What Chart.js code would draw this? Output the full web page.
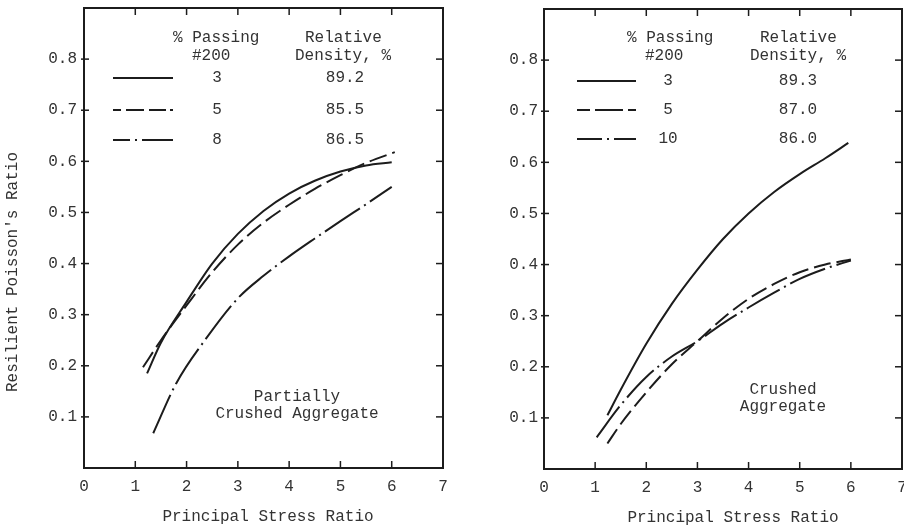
<!DOCTYPE html>
<html>
<head>
<meta charset="utf-8">
<script src="https://cdn.jsdelivr.net/npm/chart.js@4.4.1/dist/chart.umd.min.js"></script>
<style>
  html, body { margin: 0; padding: 0; background: #fff; }
  #wrap { position: relative; width: 904px; height: 531px; overflow: hidden; background: #fff; }
  #wrap canvas { position: absolute; top: 0; }
</style>
</head>
<body>
<div id="wrap">
  <canvas id="left" width="452" height="531" style="left:0"></canvas>
  <canvas id="right" width="452" height="531" style="left:452px"></canvas>
</div>
<script>
// ── DATA ──────────────────────────────────────────────────────────────────────
const X_TICKS = [0, 1, 2, 3, 4, 5, 6, 7];
const Y_TICKS = [0.1, 0.2, 0.3, 0.4, 0.5, 0.6, 0.7, 0.8];

// Left panel: partially crushed aggregate
const pcSolidX = [1.23, 1.5, 2, 2.5, 3, 3.5, 4, 4.5, 5, 5.5, 6.0];
const pcSolidY = [0.185, 0.245, 0.325, 0.4, 0.458, 0.503, 0.537, 0.562, 0.58, 0.592, 0.598];
const pcDashX  = [1.15, 1.5, 2, 2.5, 3, 3.5, 4, 4.5, 5, 5.5, 6.06];
const pcDashY  = [0.197, 0.25, 0.318, 0.383, 0.437, 0.48, 0.515, 0.546, 0.573, 0.597, 0.618];
const pcDotX   = [1.35, 1.8, 2.4, 3, 3.5, 4, 4.5, 5, 5.5, 6];
const pcDotY   = [0.068, 0.166, 0.256, 0.332, 0.376, 0.414, 0.449, 0.483, 0.516, 0.55];
const pcPassing = ['3', '5', '8'];
const pcDensity = ['89.2', '85.5', '86.5'];

// Right panel: crushed aggregate
const cSolidX = [1.24, 1.5, 2, 2.5, 3, 3.5, 4, 4.5, 5, 5.5, 5.95];
const cSolidY = [0.105, 0.155, 0.245, 0.323, 0.39, 0.45, 0.5, 0.542, 0.577, 0.608, 0.638];
const cDashX  = [1.24, 1.5, 2, 2.5, 3, 3.5, 4, 4.5, 5, 5.5, 6];
const cDashY  = [0.05, 0.088, 0.15, 0.205, 0.25, 0.295, 0.333, 0.362, 0.385, 0.4, 0.41];
const cDotX   = [1.03, 1.5, 2, 2.5, 3, 3.5, 4, 4.5, 5, 5.5, 6];
const cDotY   = [0.062, 0.125, 0.18, 0.22, 0.25, 0.285, 0.316, 0.345, 0.372, 0.392, 0.408];
const cPassing = ['3', '5', '10'];
const cDensity = ['89.3', '87.0', '86.0'];

// ── STYLE ─────────────────────────────────────────────────────────────────────
const INK  = '#1c1c1c';
const TEXT = '#333333';
const FAM  = '"Liberation Mono", "DejaVu Sans Mono", monospace';

const toPts = (xs, ys) => xs.map((x, i) => ({ x, y: ys[i] }));

function line(ctx, x0, y0, x1, y1) {
  ctx.beginPath(); ctx.moveTo(x0, y0); ctx.lineTo(x1, y1); ctx.stroke();
}

function text(ctx, s, x, y, align, size) {
  ctx.font = (size || 16) + 'px ' + FAM;
  ctx.textAlign = align || 'left';
  ctx.textBaseline = 'middle';
  ctx.fillText(s, x, y);
}

// frame, inward ticks, legend table and labels drawn over the chart
function decorPlugin(cfg) {
  return {
    id: 'decor',
    afterDraw(chart) {
      const { ctx, chartArea: { left, right, top, bottom }, scales: { x, y } } = chart;
      ctx.save();
      ctx.strokeStyle = INK;
      ctx.lineWidth = 2;
      ctx.setLineDash([]);
      ctx.strokeRect(left, top, right - left, bottom - top);

      ctx.lineWidth = 1.5;
      X_TICKS.slice(1, -1).forEach(v => {
        const px = x.getPixelForValue(v);
        line(ctx, px, bottom, px, bottom - 7);
        line(ctx, px, top, px, top + 7);
      });
      Y_TICKS.forEach(v => {
        const py = y.getPixelForValue(v);
        line(ctx, left - 3, py, left + 5, py);
        line(ctx, right, py, right - 7, py);
      });

      // legend table
      ctx.fillStyle = TEXT;
      const L = cfg.legend;
      text(ctx, '% Passing', L.passX, 38);
      text(ctx, '#200', L.numX0, 56);
      text(ctx, 'Relative', L.relX, 38);
      text(ctx, 'Density, %', L.denX, 56);
      cfg.series.forEach((s, i) => {
        const ry = L.rows[i];
        ctx.lineWidth = 2;
        ctx.setLineDash(s.legendDash);
        line(ctx, L.lineX0, ry, L.lineX1, ry);
        ctx.setLineDash([]);
        text(ctx, cfg.passing[i], L.passCx, ry, 'center');
        text(ctx, cfg.density[i], L.denCx, ry, 'center');
      });

      // panel label
      cfg.note.lines.forEach((t, i) => text(ctx, t, cfg.note.x, cfg.note.y + i * 17, 'center'));

      // axis titles
      text(ctx, 'Principal Stress Ratio', cfg.xTitle.x, cfg.xTitle.y, 'center', 16);
      if (cfg.yTitle) {
        ctx.translate(cfg.yTitle.x, cfg.yTitle.y);
        ctx.rotate(-Math.PI / 2);
        text(ctx, "Resilient Poisson's Ratio", 0, 0, 'center', 16);
      }
      ctx.restore();
    }
  };
}

function makePanel(id, cfg) {
  return new Chart(document.getElementById(id), {
    type: 'scatter',
    data: {
      datasets: cfg.series.map(s => ({
        data: toPts(s.x, s.y),
        showLine: true,
        borderColor: INK,
        borderWidth: 2,
        borderDash: s.dash,
        pointRadius: 0,
        cubicInterpolationMode: 'monotone',
        fill: false
      }))
    },
    options: {
      responsive: false,
      animation: false,
      devicePixelRatio: 1,
      layout: { padding: cfg.pad },
      plugins: { legend: { display: false }, tooltip: { enabled: false } },
      scales: {
        x: {
          type: 'linear', min: 0, max: 7,
          afterBuildTicks: s => { s.ticks = X_TICKS.map(v => ({ value: v })); },
          afterFit: s => { s.height = cfg.xH; s.paddingLeft = 0; s.paddingRight = 0; },
          grid: { display: false, drawTicks: false },
          border: { display: false },
          ticks: { color: TEXT, padding: 9, font: { family: FAM, size: 16 }, maxRotation: 0, callback: v => String(v) }
        },
        y: {
          type: 'linear', min: 0, max: 0.9,
          afterBuildTicks: s => { s.ticks = Y_TICKS.map(v => ({ value: v })); },
          afterFit: s => { s.width = cfg.yW; s.paddingTop = 0; s.paddingBottom = 0; },
          grid: { display: false, drawTicks: false },
          border: { display: false },
          ticks: { color: TEXT, padding: cfg.yPad, font: { family: FAM, size: 16 }, callback: v => Number(v).toFixed(1) }
        }
      }
    },
    plugins: [decorPlugin(cfg)]
  });
}

makePanel('left', {
  pad: { left: 0, top: 8, right: 9, bottom: 0 },
  yW: 84, xH: 63, yPad: 7,
  series: [
    { x: pcSolidX, y: pcSolidY, dash: [], legendDash: [] },
    { x: pcDashX, y: pcDashY, dash: [18, 6], legendDash: [8, 5, 18, 5, 17, 4] },
    { x: pcDotX, y: pcDotY, dash: [42, 5, 2, 5], legendDash: [17, 5, 2, 5, 40] }
  ],
  passing: pcPassing,
  density: pcDensity,
  legend: { passX: 173, numX0: 192, relX: 305, denX: 295, lineX0: 113, lineX1: 173,
            passCx: 217, denCx: 345, rows: [78, 110, 140] },
  note: { x: 297, y: 397, lines: ['Partially', 'Crushed Aggregate'] },
  xTitle: { x: 268, y: 517 },
  yTitle: { x: 13, y: 272 }
});

makePanel('right', {
  pad: { left: 0, top: 9, right: 2, bottom: 0 },
  yW: 92, xH: 62, yPad: 6,
  series: [
    { x: cSolidX, y: cSolidY, dash: [], legendDash: [] },
    { x: cDashX, y: cDashY, dash: [17, 6], legendDash: [13, 5, 28, 5] },
    { x: cDotX, y: cDotY, dash: [38, 5, 2, 5], legendDash: [25, 5, 2, 5, 30] }
  ],
  passing: cPassing,
  density: cDensity,
  legend: { passX: 175, numX0: 193, relX: 308, denX: 298, lineX0: 125, lineX1: 184,
            passCx: 216, denCx: 346, rows: [81, 110, 139] },
  note: { x: 331, y: 390, lines: ['Crushed', 'Aggregate'] },
  xTitle: { x: 281, y: 518 },
  yTitle: null
});
</script>
</body>
</html>
